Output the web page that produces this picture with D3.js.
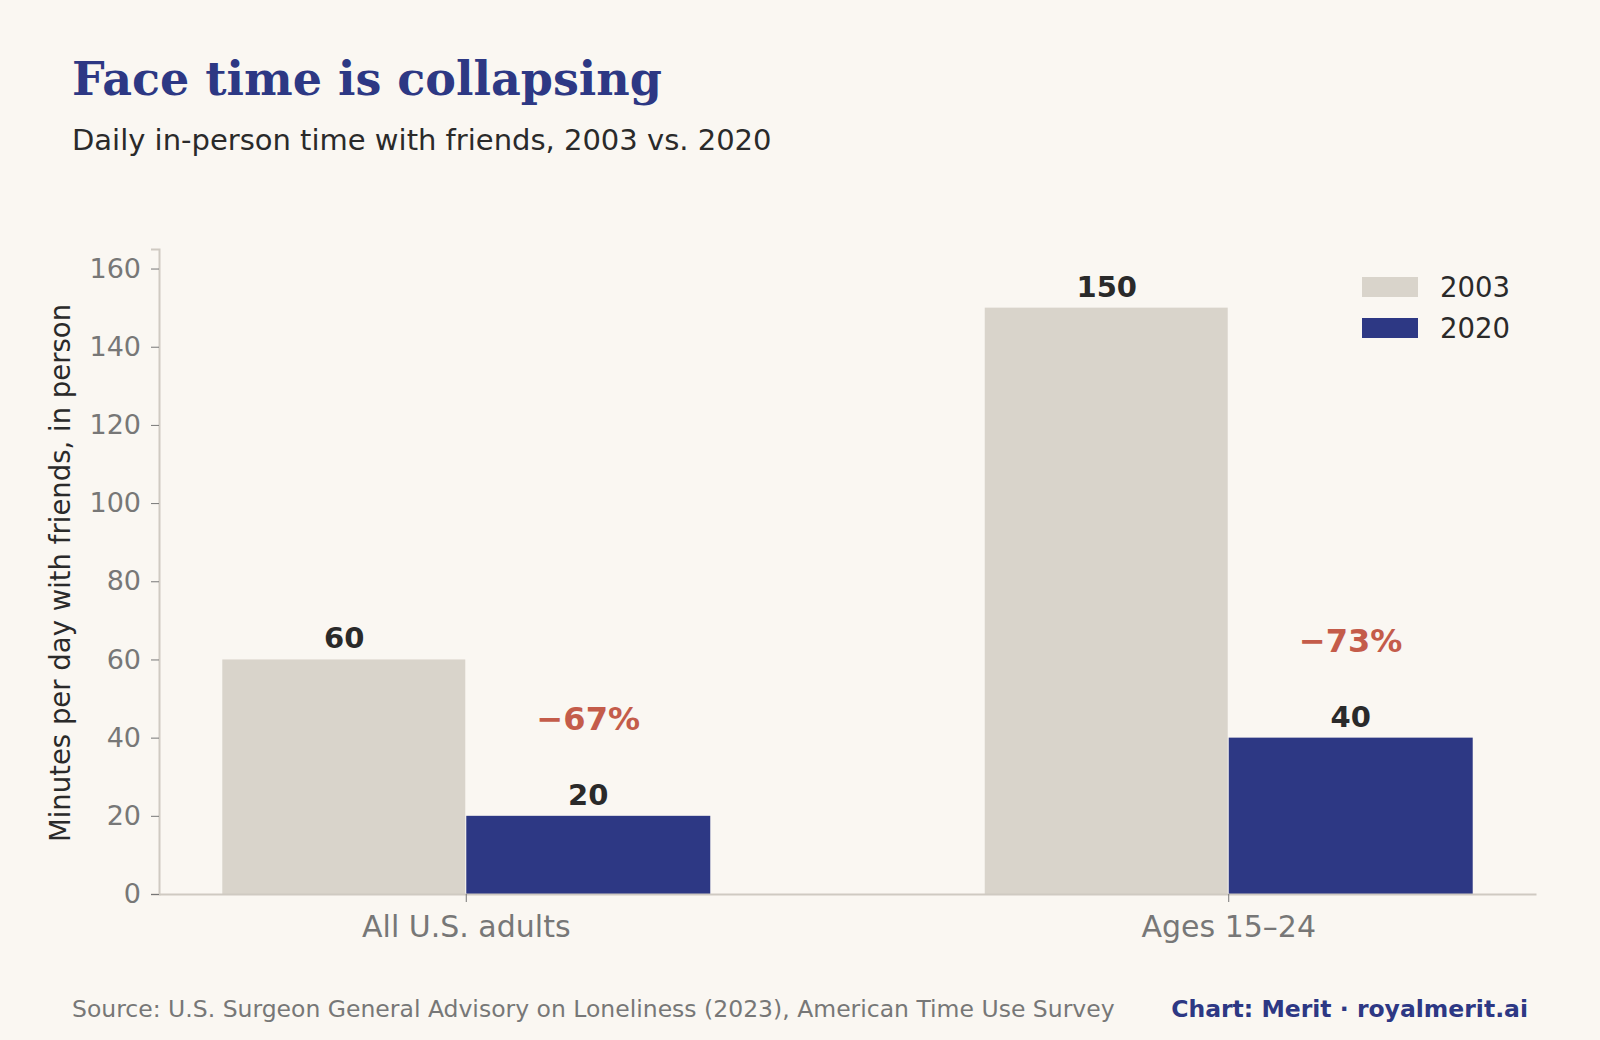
<!DOCTYPE html>
<html>
<head>
<meta charset="utf-8" />
<style>
  body { margin: 0; background: #faf7f2; }
  text { font-family: "DejaVu Sans", sans-serif; }
</style>
<script src="https://d3js.org/d3.v7.min.js"></script>
</head>
<body>
<script>
  var categories = ["All U.S. adults", "Ages 15–24"];
  var years = ["2003", "2020"];
  var values2003 = [60, 150];
  var values2020 = [20, 40];
  var changes = ["−67%", "−73%"];
  var yTicks = [0, 20, 40, 60, 80, 100, 120, 140, 160];

  var width = 1600, height = 1040;
  var colors = { "2003": "#d9d4cb", "2020": "#2d3884" };

  var svg = d3.select("body").append("svg")
    .attr("width", width).attr("height", height);

  var x = d3.scaleBand().domain(categories).range([159, 1536])
    .paddingInner(0.36).paddingOuter(0.083);
  var xs = d3.scaleBand().domain(years).range([0, x.bandwidth()]);
  var y = d3.scaleLinear().domain([0, 165]).range([894, 249]);

  svg.append("text").attr("x", 72).attr("y", 95)
    .style("font-family", "DejaVu Serif, serif").style("font-weight", "bold")
    .style("font-size", "46px").attr("fill", "#2d3884").text("Face time is collapsing");
  svg.append("text").attr("x", 72).attr("y", 150)
    .style("font-size", "29px").attr("fill", "#2a2a2a")
    .text("Daily in-person time with friends, 2003 vs. 2020");

  var rows = categories.map(function (c, i) {
    return { cat: c, v: [values2003[i], values2020[i]], change: changes[i] };
  });

  var g = svg.selectAll(".grp").data(rows).enter().append("g")
    .attr("transform", function (d) { return "translate(" + x(d.cat) + ",0)"; });

  years.forEach(function (yr, k) {
    g.append("rect")
      .attr("x", xs(yr)).attr("width", xs.bandwidth() - (k === 0 ? 1 : 0))
      .attr("y", function (d) { return y(d.v[k]); })
      .attr("height", function (d) { return y(0) - y(d.v[k]); })
      .attr("fill", colors[yr]);
    g.append("text")
      .attr("x", xs(yr) + xs.bandwidth() / 2)
      .attr("y", function (d) { return y(d.v[k]) - 11; })
      .attr("text-anchor", "middle").style("font-size", "29px").style("font-weight", "bold")
      .attr("fill", "#2a2a2a").text(function (d) { return d.v[k]; });
  });

  g.append("text")
    .attr("x", xs("2020") + xs.bandwidth() / 2)
    .attr("y", function (d) { return y(d.v[1]) - 86; })
    .attr("text-anchor", "middle").style("font-size", "32px").style("font-weight", "bold")
    .attr("fill", "#c45c4a").text(function (d) { return d.change; });

  var yAxis = svg.append("g").attr("transform", "translate(159,0)")
    .call(d3.axisLeft(y).tickValues(yTicks).tickSize(8).tickPadding(10));
  yAxis.select(".domain").attr("stroke", "#cfcac2").attr("stroke-width", 2);
  yAxis.selectAll(".tick line").attr("stroke", "#777");
  yAxis.selectAll(".tick text").style("font-size", "27px").attr("fill", "#777");

  var xAxis = svg.append("g").attr("transform", "translate(0,894)")
    .call(d3.axisBottom(x).tickSize(8).tickPadding(14).tickSizeOuter(0));
  xAxis.select(".domain").attr("stroke", "#cfcac2").attr("stroke-width", 2);
  xAxis.selectAll(".tick line").attr("stroke", "#777");
  xAxis.selectAll(".tick text").style("font-size", "30px").attr("fill", "#777");

  svg.append("text").attr("transform", "translate(70,573) rotate(-90)")
    .attr("text-anchor", "middle").style("font-size", "27.5px").attr("fill", "#2a2a2a")
    .text("Minutes per day with friends, in person");

  var leg = svg.selectAll(".leg").data(years).enter().append("g")
    .attr("transform", function (d, i) { return "translate(1362," + (277 + i * 41) + ")"; });
  leg.append("rect").attr("width", 56).attr("height", 20).attr("fill", function (d) { return colors[d]; });
  leg.append("text").attr("x", 78).attr("y", 20).style("font-size", "27.5px")
    .attr("fill", "#2a2a2a").text(function (d) { return d; });

  svg.append("text").attr("x", 72).attr("y", 1017).style("font-size", "23.5px").attr("fill", "#777")
    .text("Source: U.S. Surgeon General Advisory on Loneliness (2023), American Time Use Survey");
  svg.append("text").attr("x", 1528).attr("y", 1017).attr("text-anchor", "end")
    .style("font-size", "23.5px").style("font-weight", "bold").attr("fill", "#2d3884")
    .text("Chart: Merit · royalmerit.ai");
</script>
</body>
</html>
